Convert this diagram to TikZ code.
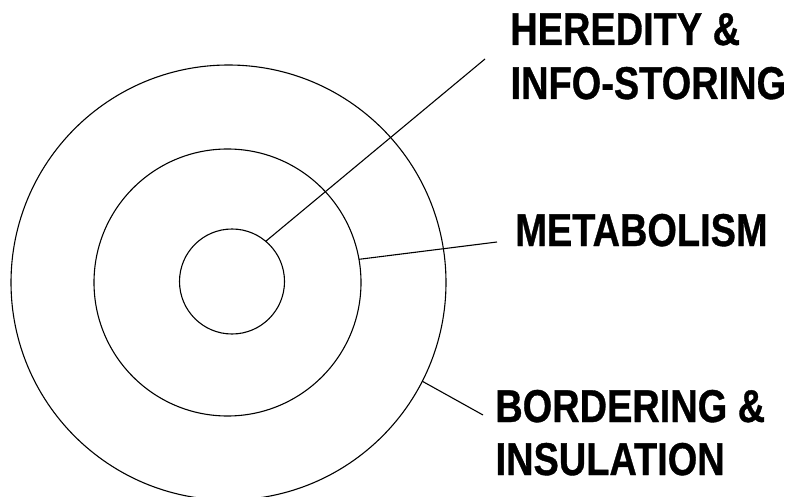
\documentclass[tikz,border=0pt]{standalone}
\usepackage{graphicx}
\usepackage{fontspec}
\setmainfont{Liberation Sans}
\newfontfamily\labfont{Liberation Sans Bold}[FakeBold=0.8]
\tikzset{
  ring/.style={circle, draw=black, line width=1.1pt, inner sep=0pt, outer sep=0pt},
  link/.style={draw=black, line width=1.1pt},
  lab/.style={anchor=base west, inner sep=0pt, outer sep=0pt, font=\labfont\fontsize{46}{54}\selectfont}
}
\newcommand{\narrow}[1]{\scalebox{0.825}[1]{#1}}
\begin{document}
\begin{tikzpicture}[x=1pt, y=-1pt]
\useasboundingbox (0,0) rectangle (792,497);
\node[ring, minimum size=435pt] (outer) at (228.5,282.5) {};
\node[ring, minimum size=267pt] (middle) at (227.5,282.5) {};
\node[ring, minimum size=105pt] (inner) at (232,281.5) {};
\node[lab] (her1) at (510.3,45) {\narrow{HEREDITY \&}};
\node[lab] (her2) at (510.6,99) {\narrow{INFO-STORING}};
\node[lab] (met) at (515.3,246) {\narrow{METABOLISM}};
\node[lab] (bor1) at (495.3,422) {\narrow{BORDERING \&}};
\node[lab] (bor2) at (495.6,475) {\narrow{INSULATION}};
\coordinate (e1) at (485,59);
\coordinate (e2) at (497,242);
\coordinate (e3) at (483,415);
\draw[link] (inner.50) -- (e1);
\draw[link] (middle.10) -- (e2);
\draw[link] (outer.-27.4) -- (e3);
\end{tikzpicture}
\end{document}
